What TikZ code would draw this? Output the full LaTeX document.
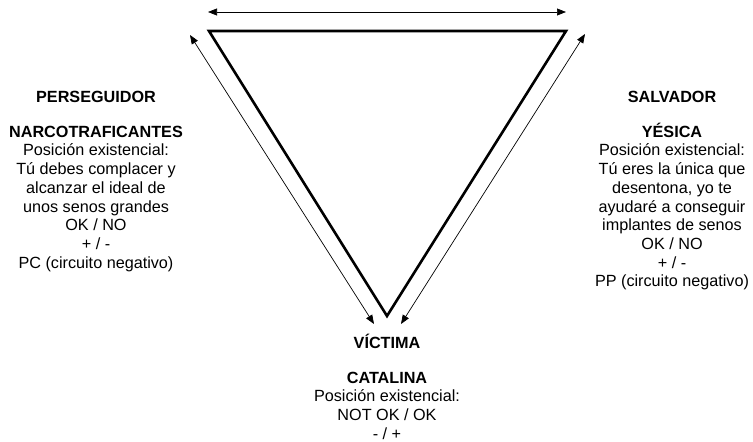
\documentclass[tikz,border=0pt]{standalone}
\usepackage{fontspec}
\setmainfont{Liberation Sans}
\usetikzlibrary{arrows.meta}
\begin{document}
\begin{tikzpicture}[x=1pt,y=-1pt,
  tri/.style={line width=2.6pt,line join=miter},
  link/.style={line width=0.7pt,{Triangle[length=9pt,width=7pt]}-{Triangle[length=9pt,width=7pt]}},
  txt/.style={align=center,inner sep=0pt,anchor=north,font=\fontsize{16.2}{18.7}\selectfont}]
\useasboundingbox (0,0) rectangle (753,442);
% triangle corners
\coordinate (tl) at (209,31);
\coordinate (tr) at (566,31);
\coordinate (bt) at (387,316);
\draw[tri] (tl) -- (tr) -- (bt) -- cycle;
% arrow ends
\coordinate (a1) at (208,12);
\coordinate (a2) at (566,12);
\coordinate (l1) at (190,35);
\coordinate (l2) at (374,324);
\coordinate (r1) at (585,34);
\coordinate (r2) at (401,324);
\draw[link] (a1) -- (a2);
\draw[link] (l1) -- (l2);
\draw[link] (r1) -- (r2);
% texts
\node[txt] (perseg) at (96,91) {\textbf{PERSEGUIDOR}\\[16pt]
\textbf{NARCOTRAFICANTES}\\
Posición existencial:\\
Tú debes complacer y\\
alcanzar el ideal de\\
unos senos grandes\\
OK / NO\\
+ / -\\
PC (circuito negativo)};
\node[txt] (salv) at (672,91) {\textbf{SALVADOR}\\[16pt]
\textbf{YÉSICA}\\
Posición existencial:\\
Tú eres la única que\\
desentona, yo te\\
ayudaré a conseguir\\
implantes de senos\\
OK / NO\\
+ / -\\
PP (circuito negativo)};
\node[txt] (vict) at (387,334) {\textbf{VÍCTIMA}\\[16pt]
\textbf{CATALINA}\\
Posición existencial:\\
NOT OK / OK\\
- / +};
\end{tikzpicture}
\end{document}
